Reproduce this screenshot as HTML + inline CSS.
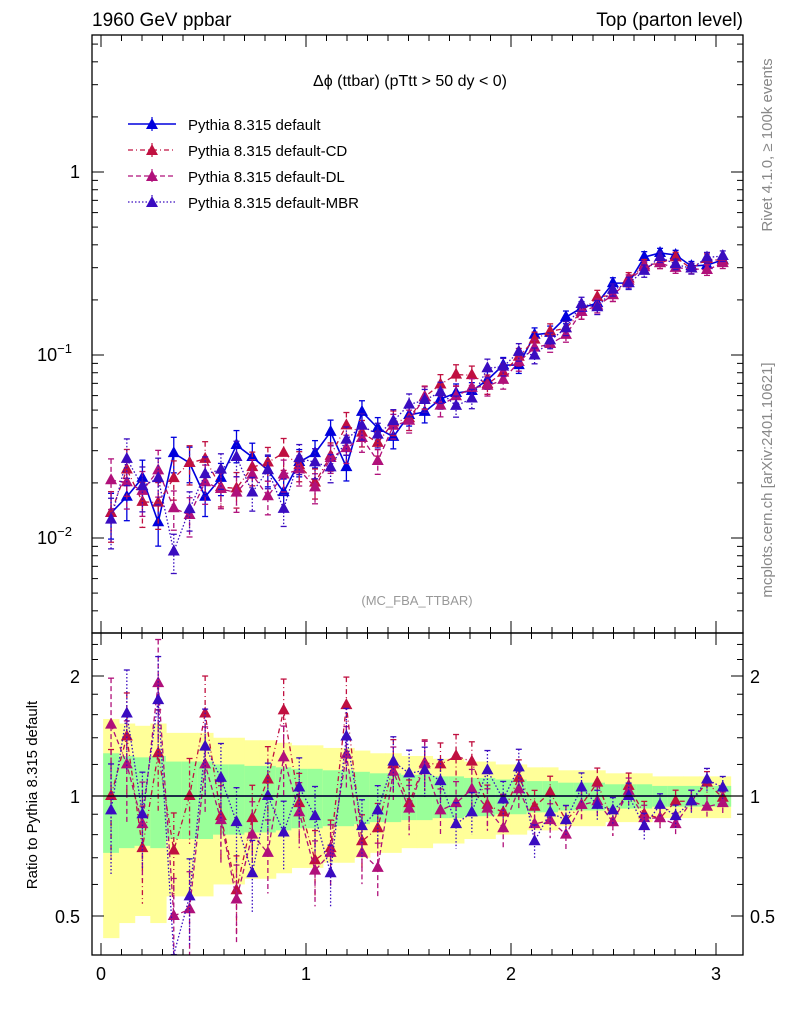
<!DOCTYPE html>
<html><head><meta charset="utf-8"><style>
body{margin:0;background:#fff;}
svg{display:block;font-family:"Liberation Sans",sans-serif;}
</style></head><body>
<svg id="c" width="786" height="1024" viewBox="0 0 786 1024">
<rect x="0" y="0" width="786" height="1024" fill="#fff"/>
<text x="92" y="26" font-size="19">1960 GeV ppbar</text>
<text x="743" y="26" font-size="19" text-anchor="end">Top (parton level)</text>
<text x="410" y="86" font-size="16" text-anchor="middle">Δϕ (ttbar) (pTtt &gt; 50 dy &lt; 0)</text>
<text x="417" y="605" font-size="13" fill="#999" text-anchor="middle">(MC_FBA_TTBAR)</text>
<text transform="translate(772,145) rotate(-90)" font-size="15" fill="#888" text-anchor="middle">Rivet 4.1.0, ≥ 100k events</text>
<text transform="translate(772,480) rotate(-90)" font-size="15" fill="#888" text-anchor="middle">mcplots.cern.ch [arXiv:2401.10621]</text>
<text transform="translate(37,795) rotate(-90)" font-size="15" text-anchor="middle">Ratio to Pythia 8.315 default</text>
<g id="bands"></g><g id="series"></g><g id="axes"></g><g id="legend"></g>
</svg>
<script>
const centers=[0.049,0.126,0.202,0.279,0.355,0.432,0.508,0.585,0.661,0.738,0.814,0.891,0.967,1.044,1.120,1.197,1.273,1.350,1.426,1.503,1.579,1.656,1.732,1.809,1.885,1.962,2.038,2.115,2.191,2.268,2.344,2.421,2.497,2.574,2.650,2.727,2.803,2.880,2.956,3.033];
const defaultVals=[0.0137,0.0168,0.0213,0.0122,0.0291,0.0257,0.0168,0.0213,0.0322,0.0277,0.0235,0.0178,0.0260,0.0291,0.0380,0.0244,0.0489,0.0399,0.0357,0.0470,0.0489,0.0575,0.0620,0.0636,0.0730,0.0881,0.0881,0.129,0.132,0.161,0.181,0.192,0.247,0.247,0.343,0.361,0.352,0.306,0.310,0.331];
const defaultErr=[0.28,0.26,0.25,0.26,0.22,0.22,0.22,0.2,0.2,0.19,0.19,0.18,0.17,0.17,0.16,0.16,0.15,0.14,0.14,0.13,0.13,0.12,0.12,0.11,0.11,0.1,0.1,0.09,0.09,0.08,0.08,0.08,0.07,0.07,0.07,0.06,0.06,0.06,0.06,0.06];
const ratioCD=[1.0,1.41,0.74,1.28,0.73,1.0,1.61,0.89,0.58,0.88,1.10,1.64,0.96,0.69,0.74,1.69,0.77,0.83,1.20,0.96,1.21,1.20,1.26,1.22,0.95,0.91,1.11,0.94,1.02,0.87,0.95,1.08,0.86,1.06,0.90,0.88,0.97,0.97,1.08,0.99];
const ratioDL=[1.51,1.20,0.85,1.92,0.50,0.52,1.20,0.87,0.55,0.80,0.72,1.25,0.91,0.65,0.72,1.27,0.72,0.66,1.15,0.93,1.20,0.92,0.96,1.04,0.93,0.83,1.04,0.85,0.87,0.80,0.95,0.97,0.86,1.03,0.88,0.88,0.85,0.97,0.94,0.96];
const ratioMBR=[0.92,1.61,0.90,1.74,0.29,0.56,1.33,1.11,0.86,0.64,1.0,0.81,1.05,0.89,0.64,1.41,0.84,0.92,1.22,1.14,1.16,1.09,0.85,0.91,1.16,0.98,1.18,0.77,0.91,0.87,1.05,0.95,0.92,1.0,0.84,0.95,0.89,0.97,1.10,1.05];
const xTicks=[0,1,2,3];
const seriesNames=["Pythia 8.315 default","Pythia 8.315 default-CD","Pythia 8.315 default-DL","Pythia 8.315 default-MBR"];

const NS="http://www.w3.org/2000/svg";
const L=92,R=743,T=35,MB=633,RB=955;
const xs=v=>101+v*205;
const ym=v=>172-Math.log10(v)*183;
const yr=v=>796-Math.log2(v)*120;
function mk(tag,at,parent){const e=document.createElementNS(NS,tag);for(const k in at)e.setAttribute(k,at[k]);parent.appendChild(e);return e;}
const gB=document.getElementById('bands'),gS=document.getElementById('series'),gA=document.getElementById('axes'),gL=document.getElementById('legend');
const clipR=v=>Math.max(Math.min(v,yr(0.4)),yr(2.56));
const clipM=v=>Math.max(Math.min(v,MB),T);
// bands
const hw=(centers[1]-centers[0])/2;
centers.forEach((c,i)=>{
  const x0=xs(c-hw),x1=xs(c+hw);
  const e=defaultErr[i];
  const yT=clipR(yr(1+2*e)),yB=clipR(yr(Math.max(1-2*e,0.3)));
  const b1=mk('rect',{x:x0,y:yT,width:x1-x0+0.5,height:yB-yT,fill:'#ffff99'},gB);
  
  
  const gT=yr(1+e),gBt=yr(1-e);
  const b2=mk('rect',{x:x0,y:gT,width:x1-x0+0.5,height:gBt-gT,fill:'#99ff99'},gB);
  
  
});
const styles=[
 {c:'#0000dd',d:'',ratio:null,w:1.6},
 {c:'#c01040',d:'5,3,1,3',ratio:ratioCD,w:1.3},
 {c:'#b0107a',d:'5,3',ratio:ratioDL,w:1.3},
 {c:'#3a0cc0',d:'1.5,2',ratio:ratioMBR,w:1.3}];
function tri(x,y,col,parent,name){
  const p=mk('polygon',{points:`${x},${y-7} ${x-6},${y+4} ${x+6},${y+4}`,fill:col},parent);
  
  
}
styles.forEach((s,k)=>{
  const g=mk('g',{},gS);
  
  
  const rat=centers.map((c,i)=>s.ratio?s.ratio[i]:1);
  const vals=centers.map((c,i)=>defaultVals[i]*rat[i]);
  // main
  let pts=centers.map((c,i)=>xs(c)+','+clipM(ym(vals[i]))).join(' ');
  const pl=mk('polyline',{points:pts,fill:'none',stroke:s.c,'stroke-width':s.w,'stroke-dasharray':s.d},g);
  
  
  let rp=centers.map((c,i)=>xs(c)+','+clipR(yr(rat[i]))).join(' ');
  const pr=mk('polyline',{points:rp,fill:'none',stroke:s.c,'stroke-width':s.w,'stroke-dasharray':s.d},g);
  
  
  centers.forEach((c,i)=>{
    const x=xs(c),e=defaultErr[i]*(k?1.1:1);
    const v=vals[i];
    const y1=clipM(ym(v*(1+e))),y2=clipM(ym(v*(1-e)));
    mk('line',{x1:x,x2:x,y1:y1,y2:y2,stroke:s.c,'stroke-width':1.3,'stroke-dasharray':s.d},g);
    mk('line',{x1:x-3,x2:x+3,y1:y1,y2:y1,stroke:s.c,'stroke-width':1.3},g);
    mk('line',{x1:x-3,x2:x+3,y1:y2,y2:y2,stroke:s.c,'stroke-width':1.3},g);
    const y=ym(v);
    if(y<MB)tri(x,y,s.c,g,'main-marker');
    if(k>0){
      const r=rat[i];
      const r1=clipR(yr(r*(1+e))),r2=clipR(yr(Math.max(r*(1-e),0.3)));
      mk('line',{x1:x,x2:x,y1:r1,y2:r2,stroke:s.c,'stroke-width':1.3,'stroke-dasharray':s.d},g);
      mk('line',{x1:x-3,x2:x+3,y1:r1,y2:r1,stroke:s.c,'stroke-width':1.3},g);
      const ry=yr(r);
      if(ry<RB&&ry>MB)tri(x,ry,s.c,g,'ratio-marker');
    }
  });
});
mk('line',{x1:L,x2:R,y1:yr(1),y2:yr(1),stroke:'#000','stroke-width':1.3},gA);
// frames
[[T,MB],[MB,RB]].forEach(([a,b])=>{const f=mk('rect',{x:L,y:a,width:R-L,height:b-a,fill:'none',stroke:'#000','stroke-width':1.3},gA);
});
// x ticks
for(let v=0;v<=3.1;v+=0.1){const x=xs(v);const big=Math.abs(v-Math.round(v))<1e-6;const h=big?12:6;
 [[T,1],[MB,-1],[MB,1],[RB,-1]].forEach(([y,d])=>mk('line',{x1:x,x2:x,y1:y,y2:y+d*h,stroke:'#000','stroke-width':1},gA));}
xTicks.forEach(v=>{const t=mk('text',{x:xs(v),y:980,'font-size':18,'text-anchor':'middle'},gA);t.textContent=v;
});
// main y ticks
for(let e=-3;e<=0;e++){for(let m=1;m<10;m++){const v=m*Math.pow(10,e);const y=ym(v);if(y<T||y>MB)continue;const h=m==1?12:6;
 mk('line',{x1:L,x2:L+h,y1:y,y2:y,stroke:'#000'},gA);mk('line',{x1:R,x2:R-h,y1:y,y2:y,stroke:'#000'},gA);}}
const yl=[[1,'1',''],[0.1,'10','−1'],[0.01,'10','−2']];
yl.forEach(([v,b,s])=>{const t=mk('text',{x:s?72:80,y:ym(v)+6,'font-size':18,'text-anchor':'end'},gA);t.textContent=b;
 if(s){const sp=mk('tspan',{dy:-8,'font-size':13},t);sp.textContent=s;}
 });
// ratio y ticks
[0.5,0.6,0.7,0.8,0.9,1,1.2,1.4,1.6,1.8,2,2.2,2.4].forEach(v=>{const y=yr(v);const big=(v==0.5||v==1||v==2);const h=big?12:6;
 mk('line',{x1:L,x2:L+h,y1:y,y2:y,stroke:'#000'},gA);mk('line',{x1:R,x2:R-h,y1:y,y2:y,stroke:'#000'},gA);});
[[2,'2'],[1,'1'],[0.5,'0.5']].forEach(([v,s])=>{[[80,'end'],[750,'start']].forEach(([x,a])=>{
 const t=mk('text',{x:x,y:yr(v)+7,'font-size':18,'text-anchor':a},gA);t.textContent=s;
 });});
// legend
styles.forEach((s,k)=>{const y=124+k*26;const g=mk('g',{},gL);
 
 mk('line',{x1:128,x2:176,y1:y,y2:y,stroke:s.c,'stroke-width':s.w,'stroke-dasharray':s.d},g);
 mk('line',{x1:152,x2:152,y1:y-7,y2:y+7,stroke:s.c,'stroke-width':1.2,'stroke-dasharray':s.d},g);
 tri(152,y+1,s.c,g,'legend-marker');
 const t=mk('text',{x:188,y:y+6,'font-size':15},g);t.textContent=seriesNames[k];});
</script>
</body></html>
